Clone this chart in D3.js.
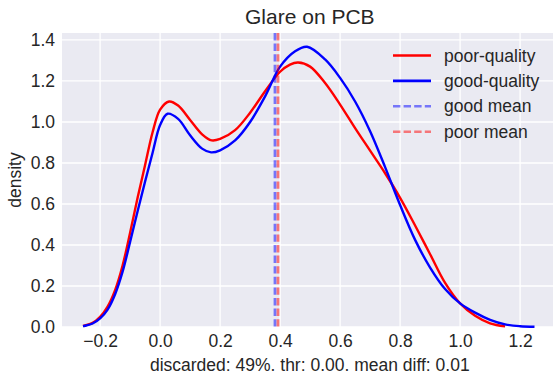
<!DOCTYPE html>
<html>
<head>
<meta charset="utf-8">
<script src="https://cdn.jsdelivr.net/npm/d3@7"></script>
<style>
  html, body { margin: 0; padding: 0; background: #fff; }
  svg { display: block; font-family: "Liberation Sans", Arial, sans-serif; }
  .tick text { fill: #262626; }
</style>
</head>
<body>
<div id="chart"></div>
<script>
// ── Data ───────────────────────────────────────────────────────────────────
const poorX = [-0.257, -0.25, -0.225, -0.2, -0.175, -0.15, -0.125, -0.1, -0.075, -0.05, -0.025, 0, 0.03, 0.06, 0.1, 0.14, 0.172, 0.2, 0.25, 0.3, 0.35, 0.4, 0.433, 0.46, 0.5, 0.55, 0.6, 0.65, 0.7, 0.75, 0.8, 0.85, 0.9, 0.95, 1.0, 1.05, 1.1, 1.15];
const poorY = [0.005, 0.008, 0.02, 0.05, 0.10, 0.18, 0.30, 0.46, 0.63, 0.79, 0.95, 1.06, 1.10, 1.08, 1.01, 0.94, 0.91, 0.917, 0.96, 1.045, 1.15, 1.245, 1.28, 1.29, 1.27, 1.19, 1.085, 0.97, 0.86, 0.75, 0.63, 0.495, 0.355, 0.215, 0.115, 0.055, 0.018, 0.003];

const goodX = [-0.257, -0.25, -0.225, -0.2, -0.175, -0.15, -0.125, -0.1, -0.075, -0.05, -0.025, 0, 0.025, 0.06, 0.1, 0.14, 0.17, 0.2, 0.25, 0.3, 0.35, 0.4, 0.45, 0.49, 0.55, 0.6, 0.65, 0.7, 0.75, 0.8, 0.85, 0.9, 0.95, 1.0, 1.05, 1.1, 1.15, 1.2, 1.248];
const goodY = [0.004, 0.006, 0.017, 0.042, 0.085, 0.16, 0.27, 0.415, 0.565, 0.71, 0.85, 0.985, 1.04, 1.015, 0.935, 0.87, 0.852, 0.862, 0.91, 1.0, 1.125, 1.27, 1.345, 1.367, 1.305, 1.215, 1.10, 0.955, 0.78, 0.595, 0.425, 0.29, 0.185, 0.115, 0.07, 0.035, 0.013, 0.004, 0.001];

const goodMean = 0.383;
const poorMean = 0.393;

const xTicks = [-0.2, 0, 0.2, 0.4, 0.6, 0.8, 1.0, 1.2];
const yTicks = [0, 0.2, 0.4, 0.6, 0.8, 1.0, 1.2, 1.4];

const legendItems = [
  { label: "poor-quality", color: "#ff0000", dash: null, opacity: 1 },
  { label: "good-quality", color: "#0000ff", dash: null, opacity: 1 },
  { label: "good mean", color: "#0000ff", dash: "7.4,3.2", opacity: 0.5 },
  { label: "poor mean", color: "#ff0000", dash: "7.4,3.2", opacity: 0.5 },
];

// ── Dimensions ─────────────────────────────────────────────────────────────
const W = 553, H = 378;
const plot = { left: 62, right: 557.6, top: 33, bottom: 327 };

const svg = d3.select("#chart").append("svg")
  .attr("width", W).attr("height", H);

const x = d3.scaleLinear().domain([-0.327, 1.325]).range([plot.left, plot.right]);
const y = d3.scaleLinear().domain([0, 1.434]).range([plot.bottom, plot.top]);

// ── Background + grid ──────────────────────────────────────────────────────
svg.append("rect")
  .attr("x", plot.left).attr("y", plot.top)
  .attr("width", plot.right - plot.left).attr("height", plot.bottom - plot.top)
  .attr("fill", "#eaeaf2");

const grid = svg.append("g").attr("stroke", "#fff").attr("stroke-width", 1.3);
grid.selectAll(".gx").data(xTicks).join("line")
  .attr("x1", d => x(d)).attr("x2", d => x(d))
  .attr("y1", plot.top).attr("y2", plot.bottom);
grid.selectAll(".gy").data(yTicks).join("line")
  .attr("x1", plot.left).attr("x2", plot.right)
  .attr("y1", d => y(d)).attr("y2", d => y(d));

// ── Axes ───────────────────────────────────────────────────────────────────
const fmt = d3.format(".1f");
const xAxis = svg.append("g")
  .attr("transform", `translate(0,${plot.bottom})`)
  .call(d3.axisBottom(x).tickValues(xTicks).tickFormat(fmt).tickSize(0).tickPadding(8));
const yAxis = svg.append("g")
  .attr("transform", `translate(${plot.left},0)`)
  .call(d3.axisLeft(y).tickValues(yTicks).tickFormat(fmt).tickSize(0).tickPadding(7));
[xAxis, yAxis].forEach(a => {
  a.select(".domain").remove();
  a.selectAll("text").style("font-size", "17.5px")
    .style("font-family", '"Liberation Sans", Arial, sans-serif');
});

// ── Curves ─────────────────────────────────────────────────────────────────
const line = d3.line()
  .x(d => x(d[0])).y(d => y(Math.max(0, d[1])))
  .curve(d3.curveCatmullRom.alpha(0.5));

svg.append("path")
  .datum(d3.zip(poorX, poorY))
  .attr("fill", "none").attr("stroke", "#ff0000").attr("stroke-width", 2.4)
  .attr("d", line);

svg.append("path")
  .datum(d3.zip(goodX, goodY))
  .attr("fill", "none").attr("stroke", "#0000ff").attr("stroke-width", 2.4)
  .attr("d", line);

// ── Mean lines ─────────────────────────────────────────────────────────────
[[goodMean, "#0000ff"], [poorMean, "#ff0000"]].forEach(([m, c]) => {
  svg.append("line")
    .attr("x1", x(m)).attr("x2", x(m))
    .attr("y1", plot.top).attr("y2", plot.bottom)
    .attr("stroke", c).attr("stroke-opacity", 0.5)
    .attr("stroke-width", 2.8).attr("stroke-dasharray", "7.4,3.2");
});

// ── Labels ─────────────────────────────────────────────────────────────────
svg.append("text")
  .attr("x", (plot.left + plot.right) / 2).attr("y", 23.5)
  .attr("text-anchor", "middle")
  .style("font-size", "21px").attr("fill", "#262626")
  .text("Glare on PCB");

svg.append("text")
  .attr("x", (plot.left + plot.right) / 2).attr("y", 370.5)
  .attr("text-anchor", "middle")
  .style("font-size", "17.5px").attr("fill", "#262626")
  .text("discarded: 49%. thr: 0.00. mean diff: 0.01");

svg.append("text")
  .attr("transform", `translate(20.5,${(plot.top + plot.bottom) / 2}) rotate(-90)`)
  .attr("text-anchor", "middle")
  .style("font-size", "17.5px").attr("fill", "#262626")
  .text("density");

// ── Legend ─────────────────────────────────────────────────────────────────
const legend = svg.append("g").attr("transform", "translate(393,55.5)");
legendItems.forEach((it, i) => {
  const row = legend.append("g").attr("transform", `translate(0,${i * 25.4})`);
  row.append("line")
    .attr("x1", 0).attr("x2", 38)
    .attr("stroke", it.color).attr("stroke-opacity", it.opacity)
    .attr("stroke-width", 2.6)
    .attr("stroke-dasharray", it.dash);
  row.append("text")
    .attr("x", 51).attr("y", 0).attr("dy", "0.35em")
    .style("font-size", "17.5px").attr("fill", "#262626")
    .text(it.label);
});
</script>
</body>
</html>
